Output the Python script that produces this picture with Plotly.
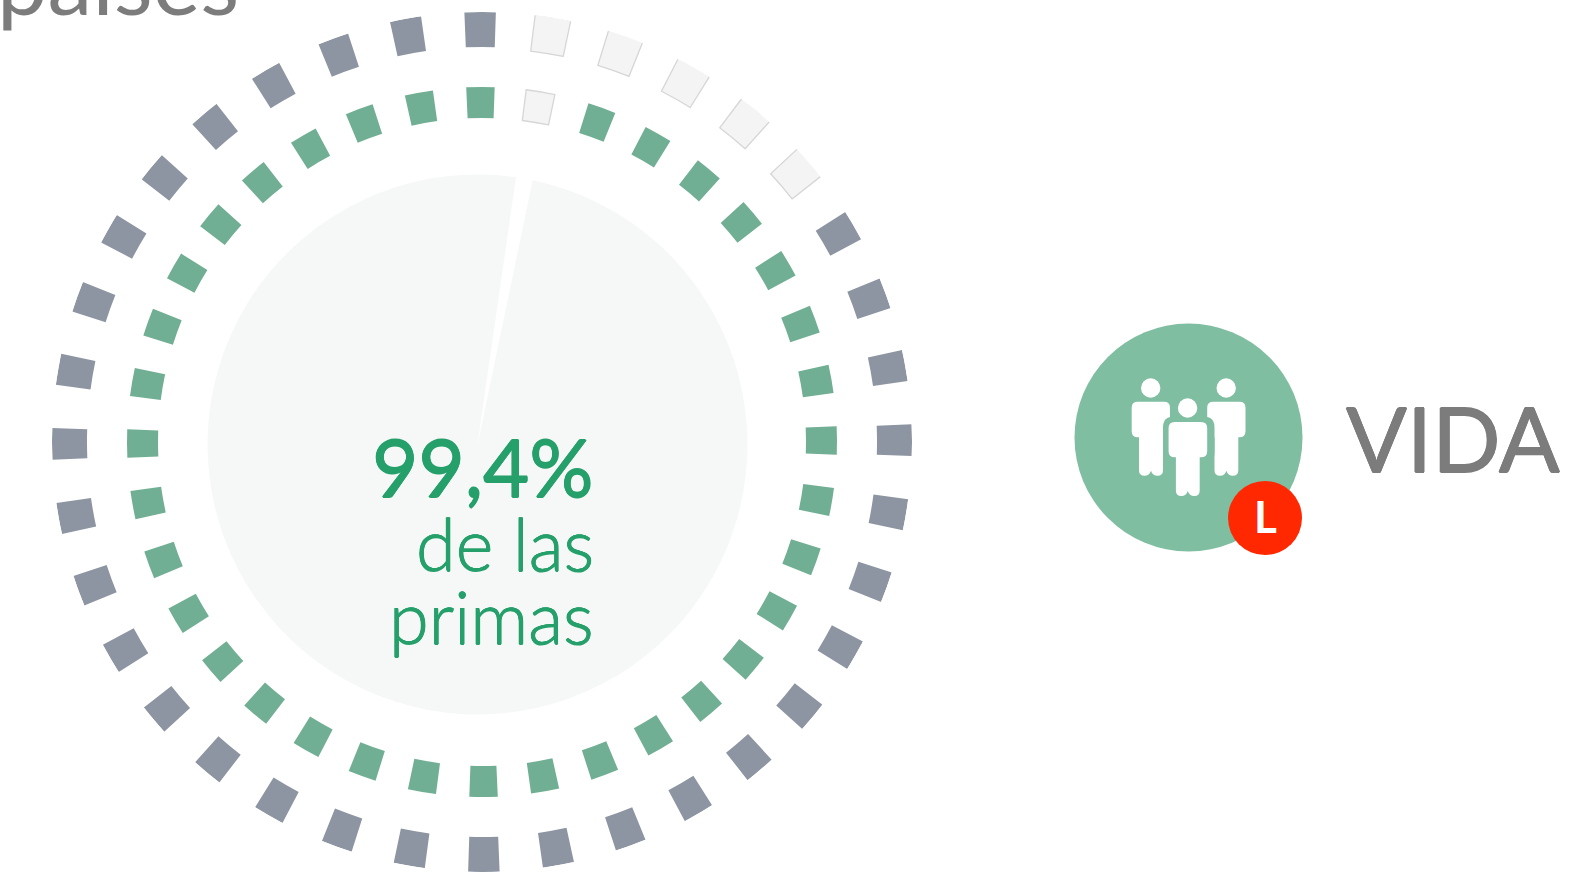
import plotly.graph_objects as go

W, H = 1594, 879

# Ring states, clockwise from twelve o'clock: 1 = filled, 0 = empty
outer_ring = [1, 0, 0, 0, 0, 0, 1, 1, 1, 1, 1, 1, 1, 1, 1, 1, 1, 1,
              1, 1, 1, 1, 1, 1, 1, 1, 1, 1, 1, 1, 1, 1, 1, 1, 1, 1]
inner_ring = [1, 0, 1, 1, 1, 1, 1, 1, 1, 1, 1, 1, 1, 1, 1, 1, 1, 1,
              1, 1, 1, 1, 1, 1, 1, 1, 1, 1, 1, 1, 1, 1, 1, 1, 1, 1]
pie_labels = ["resto", "primas"]
pie_values = [1.0, 99.0]
share_label = "99,4%"
share_lines = ["de las", "primas"]
header_label = "países"
branch_label = "VIDA"
badge_label = "L"

STEP, TILT = 10, -0.25
GRAY, GREEN, EMPTY, EMPTY_LINE = "#8E95A2", "#71AF94", "#F4F4F4", "#D6D6D6"
TEXT_GREEN, TEXT_GRAY = "#26A06B", "#7C7C7C"
ICON_GREEN, RED = "#7FBEA1", "#FF2800"
FONT = "Lato"

def px(x):
    return x / W

def py(y):
    return 1 - y / H

fig = go.Figure()

def add_ring(flags, base, depth, width, color, empty_base, empty_depth, empty_width):
    theta = [i * STEP + TILT for i, f in enumerate(flags) if f == 1]
    fig.add_trace(go.Barpolar(
        theta=theta, r=[depth] * len(theta), base=base, width=width,
        marker=dict(color=color, line=dict(color=color, width=0)),
        hoverinfo="skip", showlegend=False))
    theta = [i * STEP + TILT - 0.25 for i, f in enumerate(flags) if f == 0]
    fig.add_trace(go.Barpolar(
        theta=theta, r=[empty_depth] * len(theta), base=empty_base, width=empty_width,
        marker=dict(color=EMPTY, line=dict(color=EMPTY_LINE, width=1.3)),
        hoverinfo="skip", showlegend=False))

add_ring(outer_ring, 395, 35, 4.2, GRAY, 394, 37, 4.8)
add_ring(inner_ring, 324, 31, 4.6, GREEN, 324, 31, 4.7)

cx, cy, R = 477.5, 444.5, 270
fig.add_trace(go.Pie(
    labels=pie_labels, values=pie_values, sort=False, direction="clockwise", rotation=8.2,
    marker=dict(colors=["#FFFFFF", "#F6F8F7"], line=dict(width=0)),
    textinfo="none", hoverinfo="skip", showlegend=False,
    domain=dict(x=[px(cx - R), px(cx + R)], y=[py(cy + R), py(cy - R)])))

# Icon
def circle(x, y, r, color):
    return dict(type="circle", xref="paper", yref="paper",
                x0=px(x - r), x1=px(x + r), y0=py(y + r), y1=py(y - r),
                fillcolor=color, line=dict(width=0))

def pt(x, y):
    return f"{px(x):.5f},{py(y):.5f}"

def rounded(x0, y0, x1, y1, r):
    return (f"M{pt(x0 + r, y0)} L{pt(x1 - r, y0)} Q{pt(x1, y0)} {pt(x1, y0 + r)} "
            f"L{pt(x1, y1 - r)} Q{pt(x1, y1)} {pt(x1 - r, y1)} L{pt(x0 + r, y1)} "
            f"Q{pt(x0, y1)} {pt(x0, y1 - r)} L{pt(x0, y0 + r)} Q{pt(x0, y0)} {pt(x0 + r, y0)} Z")

def person(x0, x1, y0, y1, lx0, lx1, yb):
    r, f = 6, 5.5
    mid = (lx0 + lx1) / 2
    d = (f"M{pt(x0 + r, y0)} L{pt(x1 - r, y0)} Q{pt(x1, y0)} {pt(x1, y0 + r)} "
         f"L{pt(x1, y1 - r)} Q{pt(x1, y1)} {pt(x1 - r, y1)} L{pt(lx1, y1)} "
         f"L{pt(lx1, yb - f)} Q{pt(lx1, yb)} {pt(lx1 - f, yb)} "
         f"Q{pt(mid + 1.5, yb)} {pt(mid, yb - 5)} Q{pt(mid - 1.5, yb)} {pt(lx0 + f, yb)} "
         f"Q{pt(lx0, yb)} {pt(lx0, yb - f)} L{pt(lx0, y1)} L{pt(x0 + r, y1)} "
         f"Q{pt(x0, y1)} {pt(x0, y1 - r)} L{pt(x0, y0 + r)} Q{pt(x0, y0)} {pt(x0 + r, y0)} Z")
    return dict(type="path", xref="paper", yref="paper", path=d,
                fillcolor="#FFFFFF", line=dict(width=0))

shapes = [
    circle(1188.5, 437.5, 114, ICON_GREEN),
    circle(1150.7, 388, 9.7, "#FFFFFF"),
    circle(1226.2, 388, 9.7, "#FFFFFF"),
    person(1131.7, 1170, 401.7, 437.3, 1139, 1163, 475.7),
    person(1207.2, 1245.5, 401.7, 437.3, 1214.5, 1238.3, 475.7),
    dict(type="path", xref="paper", yref="paper",
         path=rounded(1163, 416.5, 1214.5, 463, 11),
         fillcolor=ICON_GREEN, line=dict(width=0)),
    circle(1187.6, 408, 9.7, "#FFFFFF"),
    person(1168.6, 1207.2, 422, 457.3, 1175.9, 1199.7, 496),
    circle(1265, 518, 37, RED),
]

def thicken(color, d):
    if not d:
        return "none"
    return ", ".join(f"{a}px {b}px 0 {color}" for a, b in ((d, 0), (-d, 0), (0, d), (0, -d)))

def label(text, x, y, size, color, xanchor="right", weight=400, bold=0):
    return dict(text=text, xref="paper", yref="paper", x=px(x), y=py(y),
                xanchor=xanchor, yanchor="middle", showarrow=False,
                font=dict(family=FONT, size=size, color=color, weight=weight,
                          shadow=thicken(color, bold)),
                borderpad=0, borderwidth=0)

annotations = [
    label(share_label, 592.5, 466, 80, TEXT_GREEN, bold=0.6),
    label(share_lines[0], 594, 542.5, 72, TEXT_GREEN, weight=300, bold=0.5),
    label(share_lines[1], 594, 616, 72, TEXT_GREEN, weight=300, bold=0.5),
    label(header_label, -3, -20, 90, TEXT_GRAY, xanchor="left"),
    label(branch_label, 1346, 437, 90, TEXT_GRAY, xanchor="left", bold=0.6),
    label(badge_label, 1265.5, 516, 44, "#FFFFFF", xanchor="center", weight=700),
]

OR = 430
RX, RY = 482, 442
fig.update_layout(
    width=W, height=H, autosize=False,
    margin=dict(l=0, r=0, t=0, b=0),
    paper_bgcolor="#FFFFFF", plot_bgcolor="#FFFFFF",
    polar=dict(
        domain=dict(x=[px(RX - OR), px(RX + OR)], y=[py(RY + OR), py(RY - OR)]),
        bgcolor="rgba(0,0,0,0)", barmode="overlay",
        radialaxis=dict(visible=False, range=[0, OR]),
        angularaxis=dict(visible=False, direction="clockwise", rotation=90),
    ),
    shapes=shapes, annotations=annotations,
)

fig.write_html("out.html", config=dict(displayModeBar=False),
               post_script="document.body.style.margin='0';document.body.style.overflow='hidden';")
